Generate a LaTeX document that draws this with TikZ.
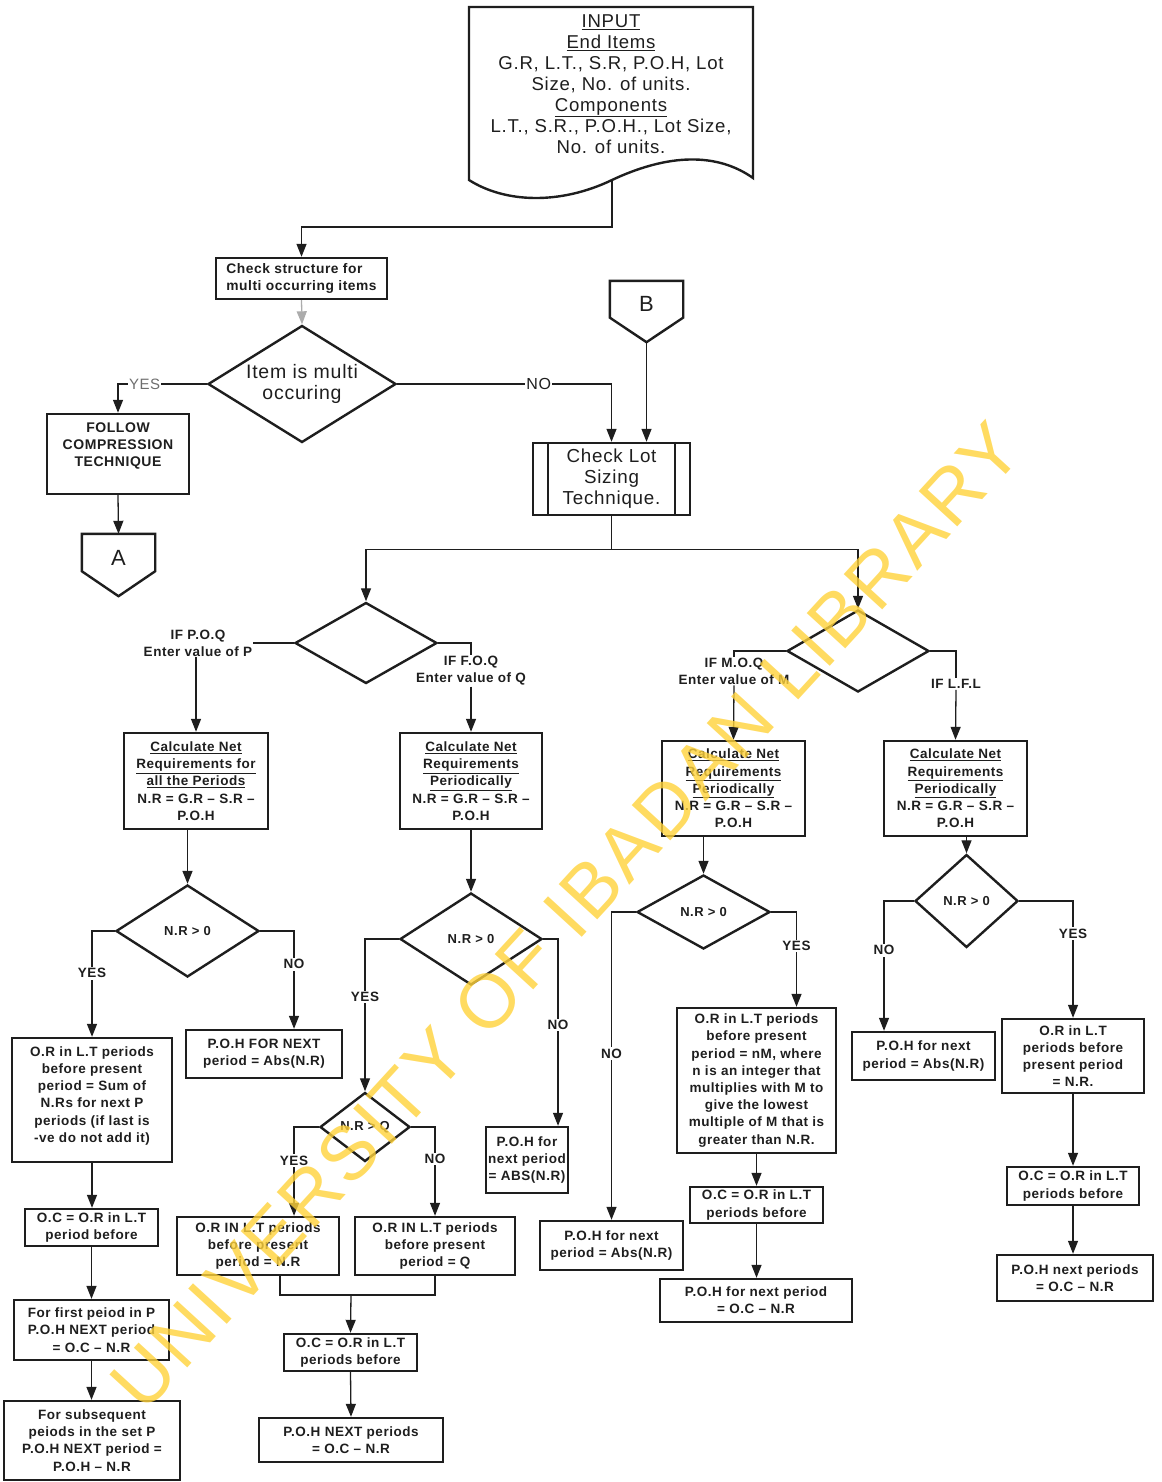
\documentclass[tikz,border=0pt]{standalone}
\usepackage{fontspec}
\setmainfont{Liberation Sans}[LetterSpace=4.0]
\usepackage{tikz}
\usetikzlibrary{shapes.geometric,arrows.meta,calc}
\definecolor{ink}{HTML}{1E1E1E}
\definecolor{softink}{HTML}{6E6E6E}
\definecolor{wmyellow}{HTML}{FFD23A}
\newcommand{\offpage}[1]{% outline of an off-page connector around node #1
  \draw[line width=2.4pt, ink] (#1.north west) -- (#1.north east) -- ($(#1.north east)!0.6!(#1.south east)$)
    -- (#1.south) -- ($(#1.north west)!0.6!(#1.south west)$) -- cycle;
}

\begin{document}
\begin{tikzpicture}[x=1pt,y=-1pt, color=ink,
  >={Triangle[length=13pt,width=10pt]},
  box/.style={draw, line width=2.4pt, align=center, inner sep=2pt, font=\bfseries\fontsize{13.5}{17.2}\selectfont},
  dec/.style={draw, shape=diamond, aspect=1.6, align=center, line width=2.4pt, inner sep=0pt, font=\bfseries\fontsize{13}{15}\selectfont},
  offpg/.style={minimum width=73pt, minimum height=62pt, inner sep=0pt, text height=16pt, text depth=16pt, font=\fontsize{22}{24}\selectfont},
  conn/.style={line width=1.3pt},
  arr/.style={conn, ->},
  lbl/.style={align=center, inner sep=1pt, font=\bfseries\fontsize{13.5}{17}\selectfont},
  yn/.style={fill=white, inner sep=1.5pt, font=\bfseries\fontsize{13.5}{15}\selectfont},
  ynl/.style={fill=white, inner sep=1pt, font=\fontsize{15}{17}\selectfont}]
\useasboundingbox (0,0) rectangle (1161,1482);

% input document
\draw[line width=2.4pt] (469,7) -- (753,7) -- (753,178) .. controls (722,156) and (676,150) .. (612,180)
  .. controls (560,205) and (505,203) .. (469,180) -- cycle;
\node[align=center, inner sep=0pt, font=\fontsize{18.6}{21}\selectfont] (input) at (611,84)
  {\underline{INPUT}\\\underline{End Items}\\G.R, L.T., S.R, P.O.H, Lot\\Size, No. of units.\\\underline{Components}\\L.T., S.R., P.O.H., Lot Size,\\No. of units.};
\coordinate (inbot) at (612,180);

% top part
\node[box, align=left, minimum width=171pt, minimum height=41pt, font=\bfseries\fontsize{13.8}{17}\selectfont] (chk) at (301.5,278.5)
  {Check structure for\\multi occurring items};
\draw[arr] (inbot) -- ++(0,47) -| (chk.north);
\node[dec, minimum width=188pt, minimum height=117pt, font=\fontsize{19.5}{21}\selectfont] (multi) at (302,384) {Item is multi\\occuring};
\draw[arr, draw=gray!65, fill=gray!65] (chk.south) -- (multi.north);
\node[box, minimum width=142pt, minimum height=80pt, font=\bfseries\fontsize{14}{17}\selectfont] (follow) at (118,454)
  {FOLLOW\\COMPRESSION\\TECHNIQUE\\[1pt]\mbox{}};
\draw[arr] (multi.west) -| node[ynl, pos=0.35, text=softink]{YES} (follow.north);
\node[offpg] (A) at (118.5,565) {A};
\offpage{A}
\draw[arr] (follow.south) -- (A.north);

\node[offpg, minimum height=61pt] (B) at (646.5,311.5) {B};
\offpage{B}
\node[box, minimum width=157pt, minimum height=72pt, font=\fontsize{18.8}{21}\selectfont] (lot) at (611.5,479)
  {Check Lot\\Sizing\\Technique.};
\draw[line width=2.4pt] ([xshift=16pt]lot.north west) -- ([xshift=16pt]lot.south west);
\draw[line width=2.4pt] ([xshift=-16pt]lot.north east) -- ([xshift=-16pt]lot.south east);
\draw[arr] (multi.east) -| node[ynl, pos=0.33, font=\fontsize{16}{18}\selectfont]{NO} (lot.north);
\draw[arr] (B.south) -- (B.south |- lot.north);

% lot sizing split
\node[dec, minimum width=142pt, minimum height=81pt] (dpq) at (366,643) {};
\node[dec, minimum width=142pt, minimum height=82pt] (dml) at (858,651) {};
\draw[conn] (lot.south) -- ++(0,33) coordinate (split);
\draw[arr] (split) -| (dpq.north);
\draw[arr] (split) -| (dml.north);

\node[lbl] (poq) at (198,643) {IF P.O.Q\\Enter value of P};
\node[lbl] (foq) at (471,671) {IF F.O.Q\\Enter value of Q};
\node[lbl] (moq) at (734,671) {IF M.O.Q\\Enter value of M};
\node[lbl] (lfl) at (956,684) {IF L.F.L};
\draw[conn] (dpq.west) -- (poq.east);
\draw[conn] (dpq.east) -| (foq.north);
\draw[conn] (dml.west) -| (moq.north);
\draw[conn] (dml.east) -| (lfl.north);

\node[box, minimum width=144pt, minimum height=96pt] (pbox) at (196,781)
  {\underline{Calculate Net}\\\underline{Requirements for}\\\underline{all the Periods}\\N.R = G.R – S.R –\\P.O.H};
\node[box, minimum width=142pt, minimum height=96pt] (qbox) at (471,781)
  {\underline{Calculate Net}\\\underline{Requirements}\\\underline{Periodically}\\N.R = G.R – S.R –\\P.O.H};
\node[box, minimum width=143pt, minimum height=95pt] (mbox) at (733.5,788.5)
  {\underline{Calculate Net}\\\underline{Requirements}\\\underline{Periodically}\\N.R = G.R – S.R –\\P.O.H};
\node[box, minimum width=143pt, minimum height=95pt] (lbox) at (955.5,788.5)
  {\underline{Calculate Net}\\\underline{Requirements}\\\underline{Periodically}\\N.R = G.R – S.R –\\P.O.H};
\draw[arr] (poq.south -| pbox.north) -- (pbox.north);
\draw[arr] (foq.south) -- (qbox.north);
\draw[arr] (moq.south) -- (mbox.north);
\draw[arr] (lfl.south) -- (lbox.north);

% P.O.Q branch
\node[dec, minimum width=143pt, minimum height=92pt] (dp) at (187.5,931) {N.R > 0};
\draw[arr] (dp.north |- pbox.south) -- (dp.north);
\node[box, minimum width=160pt, minimum height=124pt] (por) at (92,1100)
  {O.R in L.T periods\\before present\\period = Sum of\\N.Rs for next P\\periods (if last is\\-ve do not add it)\\[-6pt]\mbox{}};
\node[box, minimum width=156pt, minimum height=48pt] (ppoh) at (264,1054) {P.O.H FOR NEXT\\period = Abs(N.R)};
\draw[arr] (dp.west) -| node[yn, pos=0.70]{YES} (por.north);
\draw[arr] (dp.east) -| node[yn, pos=0.67]{NO} ([xshift=30pt]ppoh.north);
\node[box, minimum width=133pt, minimum height=37pt] (poc) at (91.5,1227.5) {O.C = O.R in L.T\\period before};
\node[box, minimum width=155pt, minimum height=60pt] (pfirst) at (91.5,1330) {For first peiod in P\\P.O.H NEXT period\\= O.C – N.R};
\node[box, minimum width=176pt, minimum height=79pt] (psub) at (92,1440.5)
  {For subsequent\\peiods in the set P\\P.O.H NEXT period =\\P.O.H – N.R};
\draw[arr] (por.south) -- (por.south |- poc.north);
\draw[arr] (poc.south) -- (poc.south |- pfirst.north);
\draw[arr] (pfirst.south) -- (pfirst.south |- psub.north);

% F.O.Q branch
\node[dec, minimum width=142pt, minimum height=92pt] (dq) at (471,939) {N.R > 0};
\draw[arr] (qbox.south) -- (dq.north);
\node[dec, aspect=1.3, minimum width=90pt, minimum height=69pt] (dqq) at (365,1127) {N.R > Q};
\node[box, minimum width=80pt, minimum height=66pt] (qpoh) at (527,1160) {P.O.H for\\next period\\= ABS(N.R)};
\draw[arr] (dq.west) -| node[yn, pos=0.69]{YES} (dqq.north);
\draw[arr] (dq.east) -| node[yn, pos=0.73]{NO} ([xshift=31pt]qpoh.north);
\node[box, minimum width=162pt, minimum height=58pt] (qorn) at (258,1246) {O.R IN L.T periods\\before present\\period = N.R};
\node[box, minimum width=160pt, minimum height=58pt] (qorq) at (435,1246) {O.R IN L.T periods\\before present\\period = Q};
\draw[arr] (dqq.west) -| node[yn, pos=0.69]{YES} ([xshift=36pt]qorn.north);
\draw[arr] (dqq.east) -| node[yn, pos=0.68]{NO} (qorq.north);
\coordinate (qjoin) at (351,1295);
\draw[conn] ([xshift=22pt]qorn.south) |- (qjoin) -| (qorq.south);
\node[box, minimum width=133pt, minimum height=37pt] (qoc) at (350.5,1352.5) {O.C = O.R in L.T\\periods before};
\node[box, minimum width=184pt, minimum height=44pt] (qnext) at (351,1440) {P.O.H NEXT periods\\= O.C – N.R};
\draw[arr] (qjoin) -- (qoc.north);
\draw[arr] (qoc.south) -- (qnext.north);

% M.O.Q branch
\node[dec, minimum width=133pt, minimum height=74pt] (dm) at (703.5,912) {N.R > 0};
\draw[arr] (dm.north |- mbox.south) -- (dm.north);
\node[box, minimum width=159pt, minimum height=145pt] (mor) at (756.5,1080.5)
  {O.R in L.T periods\\before present\\period = nM, where\\n is an integer that\\multiplies with M to\\give the lowest\\multiple of M that is\\greater than N.R.};
\node[box, minimum width=143pt, minimum height=49pt] (mpoh) at (611.5,1245.5) {P.O.H for next\\period = Abs(N.R)};
\draw[arr] (dm.west) -| node[yn, pos=0.73]{NO} (mpoh.north);
\draw[arr] (dm.east) -| node[yn, pos=0.68]{YES} ([xshift=40pt]mor.north);
\node[box, minimum width=133pt, minimum height=36pt] (moc) at (756.5,1205) {O.C = O.R in L.T\\periods before};
\node[box, minimum width=192pt, minimum height=43pt] (mnext) at (756,1300.5) {P.O.H for next period\\= O.C – N.R};
\draw[arr] (mor.south) -- (moc.north);
\draw[arr] (moc.south) -- (moc.south |- mnext.north);

% L.F.L branch
\node[dec, aspect=1.1, minimum width=103pt, minimum height=93pt] (dl) at (966.5,901) {N.R > 0};
\draw[arr] (dl.north |- lbox.south) -- (dl.north);
\node[box, minimum width=143pt, minimum height=48pt] (lpoh) at (923.5,1056) {P.O.H for next\\period = Abs(N.R)};
\node[box, minimum width=142pt, minimum height=74pt] (lor) at (1073,1056) {O.R in L.T\\periods before\\present period\\= N.R.};
\draw[arr] (dl.west) -| node[yn, pos=0.69]{NO} ([xshift=-39.5pt]lpoh.north);
\draw[arr] (dl.east) -| node[yn, pos=0.64]{YES} (lor.north);
\node[box, minimum width=132pt, minimum height=38pt] (loc) at (1073,1186) {O.C = O.R in L.T\\periods before};
\node[box, minimum width=156pt, minimum height=46pt] (lnext) at (1075,1278) {P.O.H next periods\\= O.C – N.R};
\draw[arr] (lor.south) -- (loc.north);
\draw[arr] (loc.south) -- (loc.south |- lnext.north);

% watermark
\node[rotate=47.5, text=wmyellow, opacity=0.8, inner sep=0pt, font=\fontsize{76}{76}\selectfont] (wmark) at (566,916)
  {UNIVERSITY OF IBADAN LIBRARY};
\end{tikzpicture}
\end{document}
